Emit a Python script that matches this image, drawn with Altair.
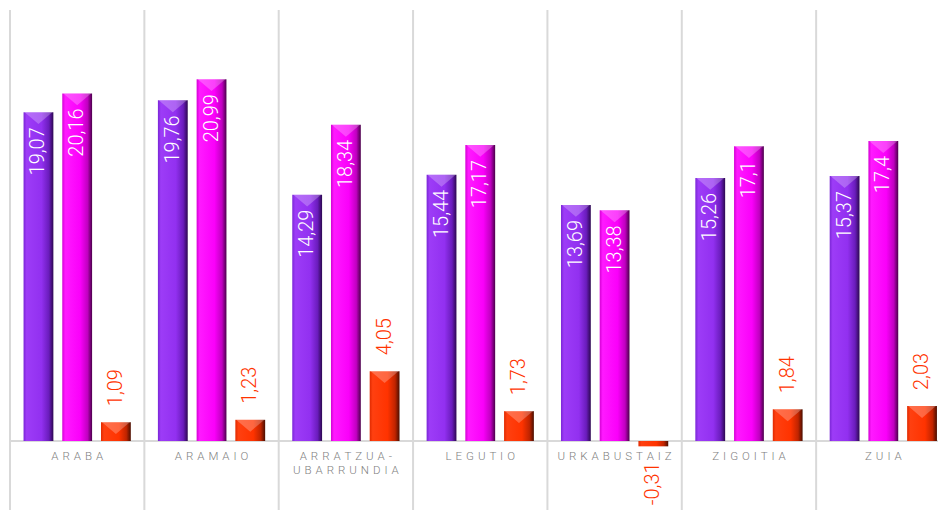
import altair as alt
import pandas as pd

categories = ["ARABA", "ARAMAIO", "ARRATZUA-UBARRUNDIA", "LEGUTIO",
              "URKABUSTAIZ", "ZIGOITIA", "ZUIA"]
cat_labels = ["ARABA", "ARAMAIO", "ARRATZUA-\nUBARRUNDIA",
              "LEGUTIO", "URKABUSTAIZ", "ZIGOITIA", "ZUIA"]
series = ["S1", "S2", "DIF"]
s1_values = [19.07, 19.76, 14.29, 15.44, 13.69, 15.26, 15.37]
s2_values = [20.16, 20.99, 18.34, 17.17, 13.38, 17.1, 17.4]
s3_values = [1.09, 1.23, 4.05, 1.73, -0.31, 1.84, 2.03]

SP = " \u200a"
rows = []
for ser, vals in zip(series, [s1_values, s2_values, s3_values]):
    for c, v in zip(categories, vals):
        rows.append({"cat": c, "series": ser, "value": v,
                     "label": str(v).replace(".", ",")})
df = pd.DataFrame(rows)
spaced = ["\n".join(SP.join(list(part)) for part in lab.split("\n"))
          for lab in cat_labels]
cat_df = pd.DataFrame({"cat": categories, "clabel": spaced})

FONT = "Roboto"
x_scale = alt.Scale(range=[0, 940.5], paddingInner=0, paddingOuter=0)
x_enc = alt.X("cat:N", sort=categories, axis=None, scale=x_scale)
xo_enc = alt.XOffset("series:N", sort=series,
                     scale=alt.Scale(domain=series, paddingInner=0.23, paddingOuter=0.35))
y_scale = alt.Scale(domain=[-5, 25], range=[517.2, 0], nice=False, zero=False)


def grad(c0, c1, c2, c3, c4):
    return alt.Gradient(gradient="linear", x1=0, x2=1, y1=0, y2=0, stops=[
        alt.GradientStop(color=c0, offset=0),
        alt.GradientStop(color=c1, offset=0.1),
        alt.GradientStop(color=c2, offset=0.6),
        alt.GradientStop(color=c3, offset=0.85),
        alt.GradientStop(color=c4, offset=1)])


fills = {
    "S1": grad("#7a26d6", "#9d3cf7", "#9230f0", "#6a1cbc", "#2c0850"),
    "S2": grad("#d400d4", "#ff1aff", "#fa00fa", "#c000c0", "#4a004a"),
    "DIF": grad("#e02a00", "#ff4010", "#ff3300", "#c02400", "#4a0e00"),
}

base = alt.Chart(df)

grid = alt.Chart(cat_df).mark_rule(color="#d9d9d9", strokeWidth=2).encode(
    x=alt.X("cat:N", sort=categories, axis=None, bandPosition=0, scale=x_scale),
    y=alt.datum(25, scale=y_scale, axis=None),
    y2=alt.datum(-4.6),
)

zero = alt.Chart(cat_df).mark_rule(color="#d9d9d9", strokeWidth=2).encode(
    y=alt.datum(0, scale=y_scale, axis=None),
    x=alt.value(0),
    x2=alt.value(940),
)

bar_layers = []
for ser in series:
    bar_layers.append(
        base.transform_filter(alt.datum.series == ser).mark_bar(
            color=fills[ser], cornerRadius=0).encode(
            x=x_enc, xOffset=xo_enc,
            y=alt.Y("value:Q", scale=y_scale, axis=None),
            y2=alt.datum(0),
        )
    )

highlight = base.transform_filter(alt.datum.value > 0.5).mark_point(
    shape="M-1,-1L1,-1L0,-0.15Z", filled=True, size=800, yOffset=14,
    strokeWidth=0, opacity=0.25).encode(
    x=x_enc, xOffset=xo_enc,
    y=alt.Y("value:Q", scale=y_scale, axis=None),
    color=alt.value("white"),
)

inner_labels = base.transform_filter(alt.datum.series != "DIF").mark_text(
    angle=270, align="right", baseline="middle", dx=-15, font=FONT,
    fontSize=20, fontWeight=300, color="white").encode(
    x=x_enc, xOffset=xo_enc,
    y=alt.Y("value:Q", scale=y_scale, axis=None),
    text="label:N",
)

dif_pos = base.transform_filter(
    (alt.datum.series == "DIF") & (alt.datum.value >= 0)).mark_text(
    angle=270, align="left", baseline="middle", dx=16, font=FONT,
    fontSize=20, fontWeight=300, color="#ff3300").encode(
    x=x_enc, xOffset=xo_enc,
    y=alt.Y("value:Q", scale=y_scale, axis=None),
    text="label:N",
)

dif_neg = base.transform_filter(
    (alt.datum.series == "DIF") & (alt.datum.value < 0)).mark_text(
    angle=270, align="right", baseline="middle", dx=-16, font=FONT,
    fontSize=20, fontWeight=300, color="#ff3300").encode(
    x=x_enc, xOffset=xo_enc,
    y=alt.Y("value:Q", scale=y_scale, axis=None),
    text="label:N",
)

cat_text = alt.Chart(cat_df).mark_text(
    align="center", baseline="top", font=FONT, fontSize=11.5, fontWeight=300,
    color="#7f7f7f", lineBreak="\n", lineHeight=14).encode(
    x=x_enc,
    y=alt.value(441),
    text="clabel:N",
)

chart = alt.layer(grid, zero, *bar_layers, highlight, inner_labels, dif_pos,
                  dif_neg, cat_text).properties(
    width=928, height=500,
    autosize=alt.AutoSizeParams(type="none"),
    padding={"left": 2, "top": 2, "right": 0, "bottom": 0},
).configure_view(stroke=None)

chart.save("out.html", embed_options={"renderer": "svg", "actions": False})
